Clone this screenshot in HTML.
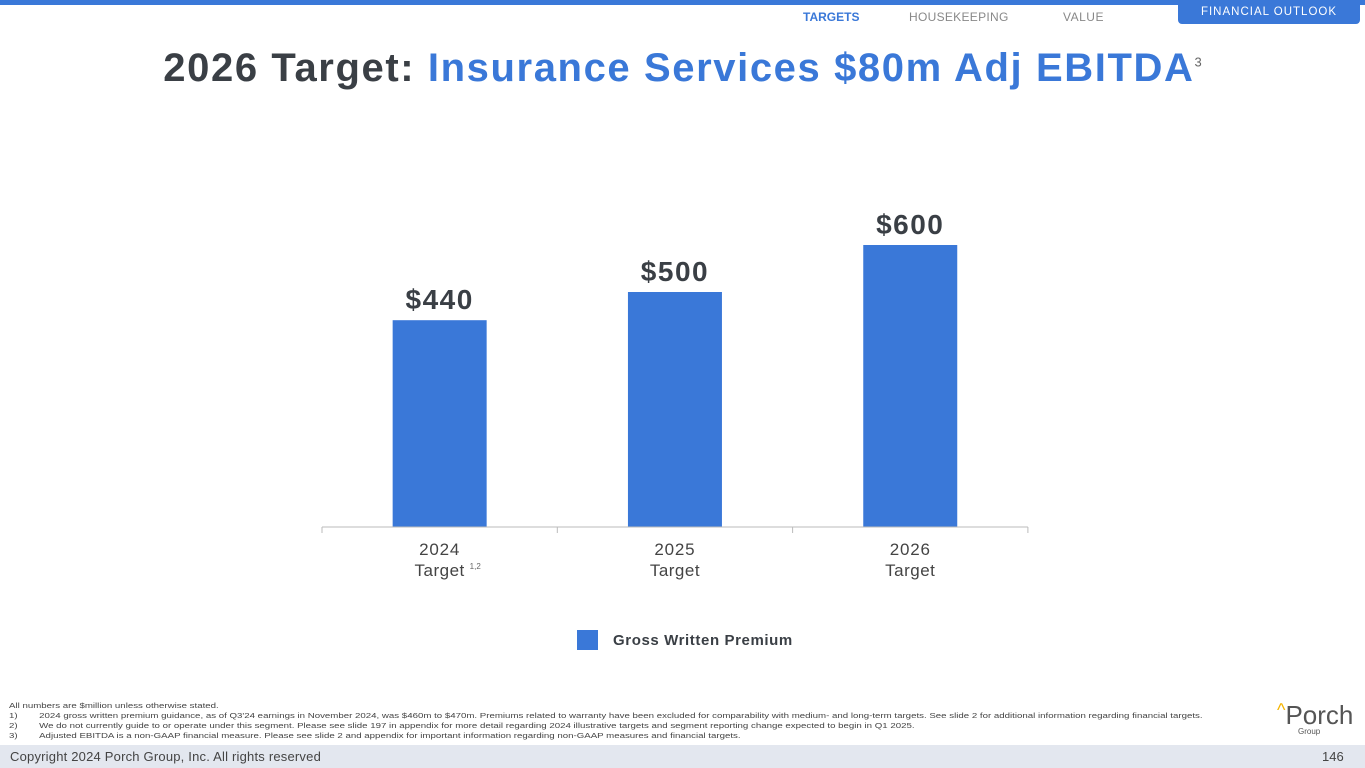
<!DOCTYPE html>
<html><head><meta charset="utf-8"><style>
body{margin:0;width:1365px;height:768px;overflow:hidden;background:#fff;font-family:"Liberation Sans",sans-serif;position:relative}
.abs{position:absolute}
</style></head><body>
<div class="abs" style="left:0;top:0;width:1365px;height:5px;background:#3a78d8"></div>
<div class="abs" style="left:803px;top:10px;font-size:12px;font-weight:bold;color:#3a78d8">TARGETS</div>
<div class="abs" style="left:909px;top:10px;font-size:12px;color:#888;letter-spacing:0.3px">HOUSEKEEPING</div>
<div class="abs" style="left:1063px;top:10px;font-size:12px;color:#888;letter-spacing:0.5px">VALUE</div>
<div class="abs" style="left:1178px;top:0;width:182px;height:24px;background:#3a78d8;border-radius:0 0 4px 4px;color:#fff;font-size:11.5px;letter-spacing:1px;text-align:center;line-height:24px">FINANCIAL OUTLOOK</div>
<div class="abs" style="left:0;width:1365px;top:46px;text-align:center;font-size:40px;font-weight:900;color:#3a3f45;letter-spacing:1.6px">2026 Target: <span style="color:#3a78d8">Insurance Services $80m Adj EBITDA</span><sup style="font-size:13px;font-weight:normal;color:#666;letter-spacing:0">3</sup></div>
<svg class="abs" style="left:0;top:0" width="1365" height="768">
<g id="chart"></g>
<rect x="577" y="630" width="21" height="20" fill="#3a78d8"/>
<text x="613" y="645" font-size="15" font-weight="bold" fill="#3a3f45" letter-spacing="0.6">Gross Written Premium</text>
</svg>
<div class="abs" style="left:9px;top:701px;font-size:7.5px;color:#444;line-height:10px;transform:scaleX(1.29);transform-origin:left top;white-space:nowrap">
All numbers are $million unless otherwise stated.<br>
1)&nbsp;&nbsp;&nbsp;&nbsp;&nbsp;&nbsp;&nbsp;&nbsp;2024 gross written premium guidance, as of Q3'24 earnings in November 2024, was $460m to $470m. Premiums related to warranty have been excluded for comparability with medium- and long-term targets. See slide 2 for additional information regarding financial targets.<br>
2)&nbsp;&nbsp;&nbsp;&nbsp;&nbsp;&nbsp;&nbsp;&nbsp;We do not currently guide to or operate under this segment. Please see slide 197 in appendix for more detail regarding 2024 illustrative targets and segment reporting change expected to begin in Q1 2025.<br>
3)&nbsp;&nbsp;&nbsp;&nbsp;&nbsp;&nbsp;&nbsp;&nbsp;Adjusted EBITDA is a non-GAAP financial measure. Please see slide 2 and appendix for important information regarding non-GAAP measures and financial targets.</div>
<div class="abs" style="left:1277px;top:700px;font-size:26px;color:#555"><span style="color:#f5b400;font-size:18px;vertical-align:top">^</span>Porch<div style="font-size:8px;margin-left:21px;margin-top:-4px">Group</div></div>
<div class="abs" style="left:0;top:745px;width:1365px;height:23px;background:#e3e7ef"></div>
<div class="abs" style="left:10px;top:749px;font-size:13px;color:#444;letter-spacing:0.2px">Copyright 2024 Porch Group, Inc. All rights reserved</div>
<div class="abs" style="left:1322px;top:749px;font-size:13px;color:#444">146</div>
<script>
const categories=["2024","2025","2026"];
const values=[440,500,600];
const valueLabels=["$440","$500","$600"];
const sups=["1,2","",""];
const g=document.getElementById('chart');
const ns="http://www.w3.org/2000/svg";
const x0=322,band=235.3,baseY=527,k=0.47;
const y=v=>baseY-v*k;
function mk(t,a){const e=document.createElementNS(ns,t);for(const p in a)e.setAttribute(p,a[p]);g.appendChild(e);return e;}
categories.forEach((c,i)=>{
 const cx=x0+band*(i+0.5);
 const r=mk('rect',{x:cx-47,y:y(values[i]),width:94,height:baseY-y(values[i]),fill:'#3a78d8'});
 
 
 const t=mk('text',{x:cx,y:y(values[i])-11,'text-anchor':'middle','font-size':28,'font-weight':'bold',fill:'#3a3f45','letter-spacing':1.5});
 t.textContent=valueLabels[i];
 
 
 const l1=mk('text',{x:cx,y:555,'text-anchor':'middle','font-size':17,fill:'#444','letter-spacing':0.8});l1.textContent=c;
 
 
 const l2=mk('text',{x:cx,y:576,'text-anchor':'middle','font-size':17,fill:'#444','letter-spacing':0.5});l2.textContent="Target";
 
 
 if(sups[i]){const s=mk('text',{x:cx+30,y:569,'font-size':8,fill:'#666'});s.textContent=sups[i];
 
 }
});
const ax=mk('line',{x1:x0,x2:x0+band*3,y1:baseY,y2:baseY,stroke:'#bbb','stroke-width':1});


for(let i=0;i<=3;i++){const tk=mk('line',{x1:x0+band*i,x2:x0+band*i,y1:baseY,y2:baseY+6,stroke:'#bbb'});

}
</script>
</body></html>
